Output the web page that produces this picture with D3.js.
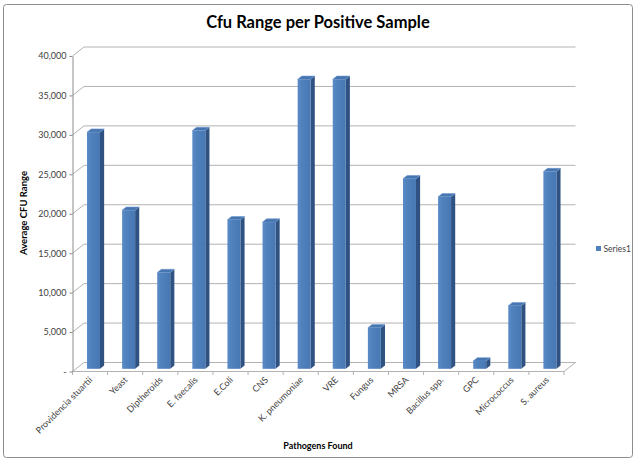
<!DOCTYPE html>
<html>
<head>
<meta charset="utf-8">
<script src="https://cdnjs.cloudflare.com/ajax/libs/d3/7.8.5/d3.min.js"></script>
<style>
  body { margin: 0; background: #fff; }
  svg text { font-family: Lato, "Open Sans", sans-serif; }
</style>
</head>
<body>
<script>
var categories = ["Providencia stuartii", "Yeast", "Diptheroids", "E. faecalis", "E.Coli", "CNS",
  "K. pneumoniae", "VRE", "Fungus", "MRSA", "Bacillus spp.", "GPC", "Micrococcus", "S. aureus"];
var series1 = [30000, 20100, 12200, 30200, 18900, 18600, 36700, 36700, 5200, 24100, 21800, 1000, 8000, 25000];
var yTicks = [0, 5000, 10000, 15000, 20000, 25000, 30000, 35000, 40000];

var width = 636,
  height = 462;

// 3d box: depth offset of the back wall
var depthX = 11.5,
  depthY = 9;

var x = d3.scaleBand()
  .domain(categories)
  .range([72.5, 564])
  .paddingInner(0.63)
  .paddingOuter(0.315);

var y = d3.scaleLinear()
  .domain([0, 40000])
  .range([371.5, 56]);

var svg = d3.select("body").append("svg")
  .attr("width", width)
  .attr("height", height);

var defs = svg.append("defs");
var grad = defs.append("linearGradient")
  .attr("id", "front")
  .attr("x1", "0%").attr("x2", "100%");
grad.append("stop").attr("offset", "0%").attr("stop-color", "#5a8bc6");
grad.append("stop").attr("offset", "35%").attr("stop-color", "#4f81bd");
grad.append("stop").attr("offset", "100%").attr("stop-color", "#4878b3");

svg.append("rect")
  .attr("x", 3.5)
  .attr("y", 4.5)
  .attr("width", 629)
  .attr("height", 453)
  .attr("rx", 3)
  .attr("fill", "#fff")
  .attr("stroke", "#8c8c8c");

svg.append("text")
  .attr("x", 318)
  .attr("y", 28)
  .attr("text-anchor", "middle")
  .style("font-size", "16.5px")
  .style("font-weight", "bold")
  .attr("fill", "#000")
  .text("Cfu Range per Positive Sample");

var x0 = x.range()[0],
  x1 = x.range()[1];

// side wall diagonals + back wall gridlines
var grid = svg.append("g").attr("stroke", "#b3b3b3").attr("fill", "none");

grid.selectAll(".diag")
  .data(yTicks)
  .enter().append("line")
  .attr("x1", x0)
  .attr("y1", function (d) { return y(d); })
  .attr("x2", x0 + depthX)
  .attr("y2", function (d) { return y(d) - depthY; });

grid.selectAll(".back")
  .data(yTicks)
  .enter().append("line")
  .attr("x1", x0 + depthX)
  .attr("y1", function (d) { return y(d) - depthY; })
  .attr("x2", x1 + depthX)
  .attr("y2", function (d) { return y(d) - depthY; });

// floor front edge and right edge
grid.append("line")
  .attr("x1", x0).attr("y1", y(0))
  .attr("x2", x1).attr("y2", y(0));
grid.append("line")
  .attr("x1", x1).attr("y1", y(0))
  .attr("x2", x1 + depthX).attr("y2", y(0) - depthY);

// category boundary ticks
grid.selectAll(".xtick")
  .data(d3.range(categories.length + 1))
  .enter().append("line")
  .attr("x1", function (i) { return x0 + i * x.step(); })
  .attr("x2", function (i) { return x0 + i * x.step(); })
  .attr("y1", y(0))
  .attr("y2", y(0) + 3.5);

// y axis
var yAxis = d3.axisLeft(y)
  .tickValues(yTicks)
  .tickSizeInner(3)
  .tickSizeOuter(0)
  .tickPadding(3)
  .tickFormat(function (d) { return d === 0 ? "-" : d3.format(",")(d); });

var ya = svg.append("g")
  .attr("transform", "translate(" + x0 + ",0)")
  .call(yAxis);
ya.select(".domain").attr("stroke", "#8c8c8c");
ya.selectAll(".tick line").attr("stroke", "#8c8c8c");
ya.selectAll(".tick text")
  .attr("fill", "#404040")
  .style("font-size", "9px")
  .style("font-family", "Lato, sans-serif");

// bars (3d columns)
var frontD = 0.3,
  barD = 0.36;
var fx = frontD * depthX,
  fy = -frontD * depthY,
  sx = barD * depthX,
  sy = barD * depthY;

var bars = svg.append("g").selectAll(".bar")
  .data(categories.map(function (c, i) { return [c, series1[i]]; }))
  .enter().append("g")
  .attr("class", "bar");

bars.append("polygon")
  .attr("fill", "#2f5282")
  .attr("points", function (d) {
    var bx = x(d[0]) + fx + x.bandwidth(),
      t = y(d[1]) + fy,
      b = y(0) + fy;
    return [[bx, t], [bx + sx, t - sy], [bx + sx, b - sy], [bx, b]].join(" ");
  });

bars.append("polygon")
  .attr("fill", "#4676b1")
  .attr("stroke", "#6d97cc")
  .attr("stroke-width", 0.6)
  .attr("points", function (d) {
    var bx = x(d[0]) + fx,
      w = x.bandwidth(),
      t = y(d[1]) + fy;
    return [[bx, t], [bx + w, t], [bx + w + sx, t - sy], [bx + sx, t - sy]].join(" ");
  });

bars.append("rect")
  .attr("fill", "url(#front)")
  .attr("x", function (d) { return x(d[0]) + fx; })
  .attr("y", function (d) { return y(d[1]) + fy; })
  .attr("width", x.bandwidth())
  .attr("height", function (d) { return y(0) - y(d[1]); });

// category labels
svg.append("g").selectAll("text")
  .data(categories)
  .enter().append("text")
  .attr("transform", function (d) {
    return "translate(" + (x(d) + x.bandwidth() / 2 + 3) + "," + (y(0) + 9) + ") rotate(-45)";
  })
  .attr("text-anchor", "end")
  .attr("fill", "#404040")
  .style("font-size", "9px")
  .text(function (d) { return d; });

// axis titles
svg.append("text")
  .attr("transform", "translate(27,213) rotate(-90)")
  .attr("text-anchor", "middle")
  .style("font-size", "9.5px")
  .style("font-weight", "bold")
  .text("Average CFU Range");

svg.append("text")
  .attr("x", 318)
  .attr("y", 449)
  .attr("text-anchor", "middle")
  .style("font-size", "9px")
  .style("font-weight", "bold")
  .text("Pathogens Found");

// legend
var legend = svg.append("g").attr("transform", "translate(596,249)");
legend.append("rect")
  .attr("x", 0)
  .attr("y", -3)
  .attr("width", 5)
  .attr("height", 5)
  .attr("fill", "#4f81bd");
legend.append("text")
  .attr("x", 7.5)
  .attr("y", 2.5)
  .attr("fill", "#404040")
  .style("font-size", "8.5px")
  .text("Series1");
</script>
</body>
</html>
